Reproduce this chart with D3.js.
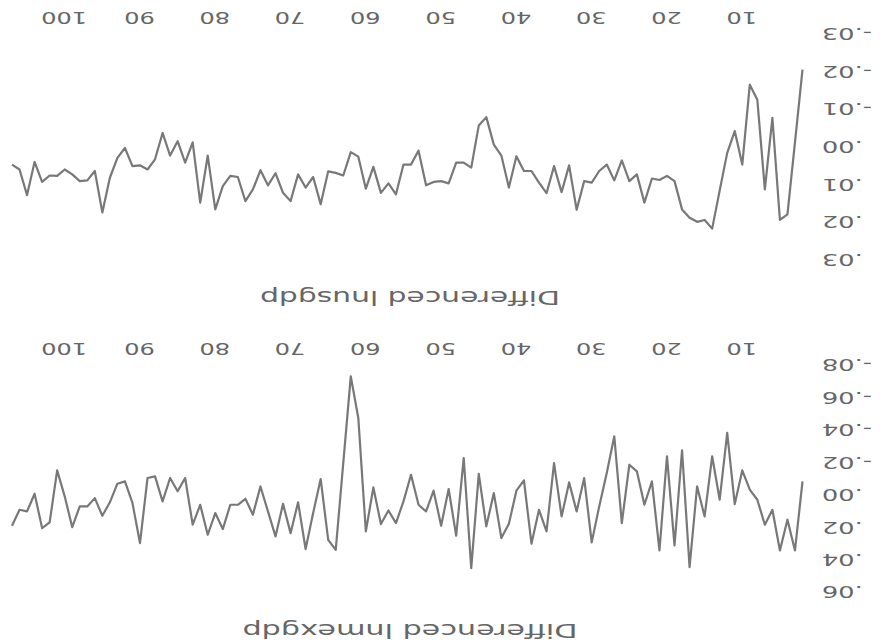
<!DOCTYPE html>
<html>
<head>
<meta charset="utf-8">
<script src="https://cdn.jsdelivr.net/npm/d3@7"></script>
<style>
  html, body { margin: 0; padding: 0; background: #fff; }
  svg { display: block; }
</style>
</head>
<body>
<div id="chart"></div>
<script>
// ---- data ----
const firstPeriod = 2;
const xTicks = [10, 20, 30, 40, 50, 60, 70, 80, 90, 100];
const mexTicks = [-0.08, -0.06, -0.04, -0.02, 0.00, 0.02, 0.04, 0.06];
const usTicks = [-0.03, -0.02, -0.01, 0.00, 0.01, 0.02, 0.03];
const mexTitle = "Differenced lnmexgdp";
const usTitle = "Differenced lnusgdp";

// differenced log GDP, in thousandths
const usValues = [
  -20.4, -1.1, 18.0, 19.5, -7.6, 11.4, -12.4, -16.4, 4.8, -4.1,
  1.7, 11.7, 21.8, 19.5, 20.0, 18.9, 16.7, 9.2, 7.8, 8.9,
  8.5, 14.9, 7.4, 9.2, 3.7, 9.0, 4.8, 6.5, 9.6, 9.2,
  16.8, 5.0, 12.1, 5.2, 12.4, 9.6, 6.5, 6.5, 2.6, 10.9,
  2.4, -0.5, -7.8, -5.6, 5.6, 4.3, 4.3, 9.8, 9.2, 9.4,
  10.3, 1.1, 4.8, 4.8, 12.7, 9.8, 12.3, 5.4, 11.2, 2.7,
  1.5, 7.7, 7.0, 6.6, 15.3, 8.1, 10.9, 7.4, 14.5, 12.3,
  7.1, 10.3, 6.3, 11.4, 14.5, 8.1, 7.8, 10.5, 16.7, 2.4,
  14.9, -1.1, 4.3, -1.4, 2.4, -3.6, 3.4, 6.1, 5.0, 5.2,
  0.4, 3.0, 8.3, 17.5, 6.5, 9.0, 9.2, 7.4, 6.1, 7.8,
  7.7, 9.4, 4.1, 12.9, 6.1, 4.8
];
const mexValues = [
  -8.2, 34.4, 15.4, 34.4, 9.3, 18.5, 3.1, -3.1, -15.0, 5.8,
  -38.1, 3.1, -23.7, 13.4, -5.1, 44.7, -27.4, 31.3, -23.7, 34.4,
  -8.2, 6.2, -14.4, -18.5, 17.5, -36.0, -13.4, 7.2, 29.4, -10.3,
  10.3, -7.6, 13.4, -19.5, 22.6, 9.3, 30.2, -8.8, -2.5, 17.9,
  26.7, -1.0, 19.5, -12.8, 45.3, -22.6, 25.3, -3.5, 19.1, -2.5,
  10.3, 6.2, -12.3, 4.1, 17.5, 9.7, 18.1, -4.5, 22.6, -47.3,
  -73.0, -19.5, 34.0, 27.8, -9.7, 11.3, 33.5, 4.7, 23.7, 5.6,
  25.7, 10.3, -5.1, 12.3, 2.5, 6.2, 6.2, 21.2, 11.3, 24.7,
  6.2, 18.5, -10.3, -2.1, -10.3, 4.1, -11.3, -10.3, 29.8, 5.1,
  -8.2, -6.8, 4.7, 13.0, 2.1, 7.2, 7.2, 20.0, 1.0, -15.0,
  17.1, 20.6, -0.6, 10.3, 9.3, 19.1
];

// ---- layout ----
const W = 888, H = 643;
const lineColor = "#787878";
const textColor = "#666666";
const font = "DejaVu Sans";

const svg = d3.select("#chart").append("svg")
  .attr("width", W).attr("height", H);
svg.append("rect").attr("width", W).attr("height", H).attr("fill", "#fff");

// the whole figure is shown upside down
const root = svg.append("g").attr("transform", `rotate(180 ${W / 2} ${H / 2})`);

const x = d3.scaleLinear()
  .domain([firstPeriod, firstPeriod + usValues.length - 1])
  .range([85.5, 876]);

const fmt = v => d3.format(".2f")(v).replace("\u2212", "-").replace("0.", ".");

function panel(values, ticks, yRange, title, titleBaseline, titleLen, xBaseline) {
  const y = d3.scaleLinear().domain([ticks[0], ticks[ticks.length - 1]]).range(yRange);
  const data = values.map((v, i) => ({ t: firstPeriod + i, v: v / 1000 }));

  // title
  root.append("text")
    .attr("x", 478).attr("y", titleBaseline)
    .attr("text-anchor", "middle")
    .attr("font-family", font).attr("font-size", 20)
    .attr("fill", textColor)
    .attr("textLength", titleLen).attr("lengthAdjust", "spacingAndGlyphs")
    .text(title);

  // y axis
  const ya = root.append("g").attr("transform", "translate(66,0)")
    .call(d3.axisLeft(y).tickValues(ticks).tickSize(0).tickPadding(0).tickFormat(fmt));
  ya.select(".domain").remove();
  ya.attr("font-family", font).attr("font-size", 16);
  ya.selectAll("text").attr("fill", textColor).attr("transform", "scale(1.6,1)");

  // x axis
  const xa = root.append("g").attr("transform", `translate(0,${xBaseline})`)
    .call(d3.axisBottom(x).tickValues(xTicks).tickSize(0).tickFormat(d3.format("d")));
  xa.select(".domain").remove();
  xa.attr("font-family", font).attr("font-size", 16);
  xa.selectAll("text").attr("y", 0).attr("dy", 0)
    .attr("fill", textColor).attr("transform", "scale(1.5,1)");

  // line
  root.append("path")
    .datum(data)
    .attr("fill", "none")
    .attr("stroke", lineColor)
    .attr("stroke-width", 2.2)
    .attr("stroke-linejoin", "round")
    .attr("d", d3.line().x(d => x(d.t)).y(d => y(d.v)));
}

panel(mexValues, mexTicks, [278, 51], mexTitle, 19, 335, 300);
panel(usValues, usTicks, [609.5, 383.5], usTitle, 352, 300, 631);
</script>
</body>
</html>
